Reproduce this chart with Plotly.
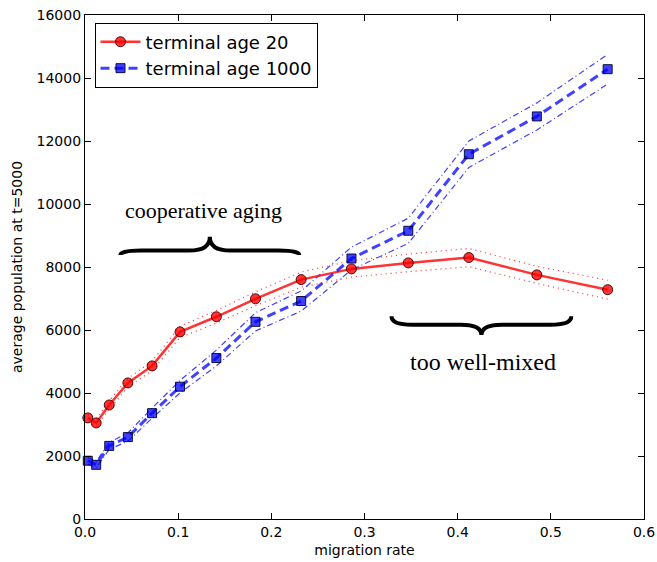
import plotly.graph_objects as go

migration = [0.003, 0.012, 0.026, 0.046, 0.072, 0.102, 0.141, 0.183, 0.232, 0.286, 0.347, 0.412, 0.485, 0.561]
age20_mean = [3210, 3050, 3620, 4320, 4860, 5940, 6420, 6990, 7600, 7940, 8130, 8300, 7750, 7280]
age20_err = [120, 120, 130, 140, 150, 180, 200, 220, 240, 260, 280, 290, 270, 300]
age1000_mean = [1850, 1720, 2320, 2600, 3360, 4200, 5110, 6260, 6920, 8270, 9150, 11580, 12780, 14280]
age1000_err = [100, 100, 110, 130, 160, 200, 250, 290, 320, 360, 400, 420, 430, 470]
y_ticks = [0, 2000, 4000, 6000, 8000, 10000, 12000, 14000, 16000]
x_ticks = [0.0, 0.1, 0.2, 0.3, 0.4, 0.5, 0.6]

RED = "rgba(255,0,0,0.8)"
BLUE = "rgba(0,0,255,0.75)"

fig = go.Figure()

# error bands
fig.add_trace(go.Scatter(x=migration, y=[m + e for m, e in zip(age20_mean, age20_err)], mode="lines",
                         line=dict(color=RED, width=1.2, dash="1px,4px"), showlegend=False, hoverinfo="skip"))
fig.add_trace(go.Scatter(x=migration, y=[m - e for m, e in zip(age20_mean, age20_err)], mode="lines",
                         line=dict(color=RED, width=1.2, dash="1px,4px"), showlegend=False, hoverinfo="skip"))
fig.add_trace(go.Scatter(x=migration, y=[m + e for m, e in zip(age1000_mean, age1000_err)], mode="lines",
                         line=dict(color=BLUE, width=1.2, dash="6px,3px,1px,3px"), showlegend=False, hoverinfo="skip"))
fig.add_trace(go.Scatter(x=migration, y=[m - e for m, e in zip(age1000_mean, age1000_err)], mode="lines",
                         line=dict(color=BLUE, width=1.2, dash="6px,3px,1px,3px"), showlegend=False, hoverinfo="skip"))

fig.add_trace(go.Scatter(x=migration, y=age20_mean, mode="lines+markers", name="terminal age 20",
                         line=dict(color=RED, width=2.5),
                         marker=dict(symbol="circle", size=10, color=RED,
                                     line=dict(color="rgba(60,0,0,0.9)", width=1)),
                         cliponaxis=False))
fig.add_trace(go.Scatter(x=migration, y=age1000_mean, mode="lines+markers", name="terminal age 1000",
                         line=dict(color=BLUE, width=3, dash="9px,5px"),
                         marker=dict(symbol="square", size=9, color=BLUE,
                                     line=dict(color="rgba(0,0,40,0.9)", width=1)),
                         cliponaxis=False))


def brace(x0, x1, y_end, y_mid, y_tip, dx):
    xm = (x0 + x1) / 2
    return (f"M {x0},{y_end} Q {x0},{y_mid} {x0+dx},{y_mid} L {xm-dx},{y_mid} "
            f"Q {xm},{y_mid} {xm},{y_tip} Q {xm},{y_mid} {xm+dx},{y_mid} "
            f"L {x1-dx},{y_mid} Q {x1},{y_mid} {x1},{y_end}")


fig.add_shape(type="path", xref="x", yref="y", path=brace(0.038, 0.230, 8380, 8520, 8960, 0.022),
              line=dict(color="black", width=4))
fig.add_shape(type="path", xref="x", yref="y", path=brace(0.329, 0.522, 6440, 6170, 5840, 0.022),
              line=dict(color="black", width=4))

fig.add_annotation(x=0.127, y=9780, xref="x", yref="y", text="cooperative aging", showarrow=False,
                   font=dict(family="Liberation Serif", size=22, color="black"))
fig.add_annotation(x=0.4267, y=4980, xref="x", yref="y", text="too well-mixed", showarrow=False,
                   font=dict(family="Liberation Serif", size=24, color="black"))

axis_common = dict(showline=True, linecolor="black", linewidth=1.2, mirror="ticks", ticks="inside",
                   ticklen=6, tickcolor="black", showgrid=False, zeroline=False, automargin=False,
                   tickfont=dict(family="DejaVu Sans", size=14, color="black"))

fig.update_xaxes(range=[0, 0.6], tickvals=x_ticks,
                 ticktext=[f"{v:.1f}" for v in x_ticks],
                 title=dict(text="migration rate", font=dict(family="DejaVu Sans", size=14, color="black"),
                            standoff=6),
                 **axis_common)
fig.update_yaxes(range=[0, 16000], tickvals=y_ticks, ticktext=[str(v) for v in y_ticks],
                 title=dict(text="average population at t=5000",
                            font=dict(family="DejaVu Sans", size=14, color="black"), standoff=10),
                 **axis_common)

fig.update_layout(
    width=657, height=562,
    margin=dict(l=85, r=13, t=15, b=43),
    plot_bgcolor="white", paper_bgcolor="white",
    legend=dict(x=0.017, y=0.985, xanchor="left", yanchor="top", bgcolor="white",
                bordercolor="black", borderwidth=1,
                font=dict(family="DejaVu Sans", size=18, color="black"),
                itemwidth=40, tracegroupgap=0),
)

fig.write_html("out.html")
